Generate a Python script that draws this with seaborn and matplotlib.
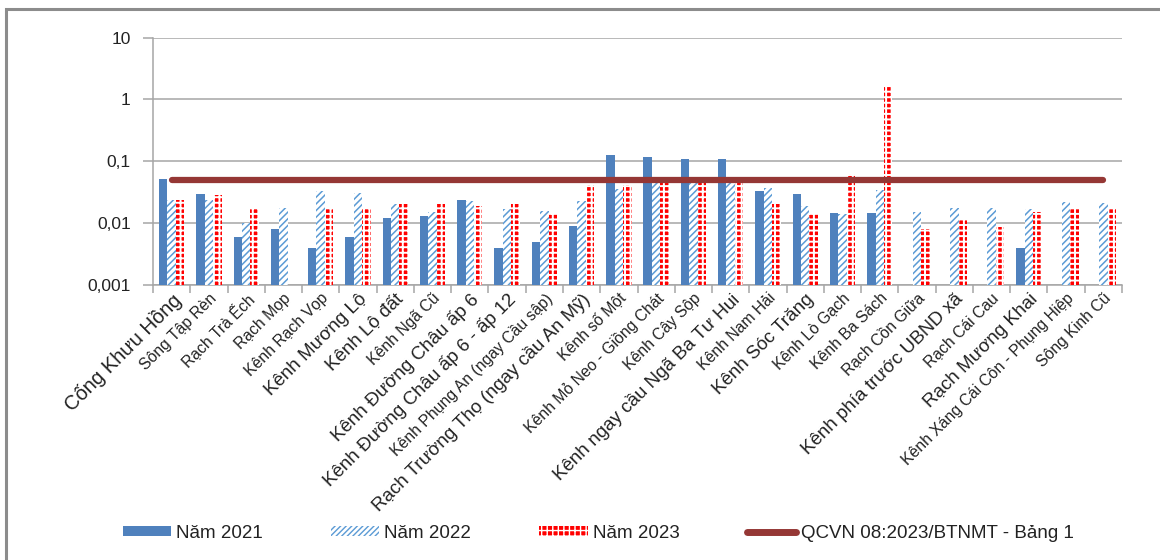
import numpy as np
import pandas as pd
import matplotlib
matplotlib.use("Agg")
import matplotlib.pyplot as plt
import seaborn as sns
from matplotlib.patches import Patch, Rectangle
from matplotlib.lines import Line2D

nan = np.nan

categories = [
    "Cống Khưu Hồng", "Sông Tập Rèn", "Rạch Trà Ếch", "Rạch Mọp", "Kênh Rạch Vọp",
    "Kênh Mương Lộ", "Kênh Lộ đất", "Kênh Ngã Cũ", "Kênh Đường Châu ấp 6",
    "Kênh Đường Châu ấp 6 - ấp 12", "Kênh Phụng An (ngay Cầu sập)",
    "Rạch Trường Thọ (ngay cầu An Mỹ)", "Kênh số Một", "Kênh Mỏ Neo - Giồng Chát",
    "Kênh Cây Sộp", "Kênh ngay cầu Ngã Ba Tư Hui", "Kênh Nam Hải", "Kênh Sóc Trăng",
    "Kênh Lò Gạch", "Kênh Ba Sách", "Rạch Cồn Giữa", "Kênh phía trước UBND xã",
    "Rạch Cái Cau", "Rạch Mương Khai", "Kênh Xáng Cái Côn - Phụng Hiệp", "Sông Kinh Cũ",
]
large_labels = [
    "Cống Khưu Hồng", "Kênh Mương Lộ", "Kênh Lộ đất", "Kênh Đường Châu ấp 6",
    "Kênh Đường Châu ấp 6 - ấp 12", "Rạch Trường Thọ (ngay cầu An Mỹ)",
    "Kênh ngay cầu Ngã Ba Tư Hui", "Kênh Sóc Trăng", "Kênh phía trước UBND xã",
    "Rạch Mương Khai",
]

v2021 = [0.052, 0.030, 0.006, 0.008, 0.004, 0.006, 0.012, 0.013, 0.024, 0.004,
         0.005, 0.009, 0.127, 0.118, 0.109, 0.109, 0.033, 0.030, 0.0145, 0.0145,
         nan, nan, nan, 0.004, nan, nan]
v2022 = [0.0235, 0.0235, 0.010, 0.0177, 0.033, 0.031, 0.020, 0.0152, 0.0226, 0.0168,
         0.0156, 0.023, 0.035, 0.045, 0.045, 0.045, 0.037, 0.019, 0.0141, 0.034,
         0.015, 0.0177, 0.0177, 0.017, 0.022, 0.021]
v2023 = [0.0235, 0.029, 0.0177, nan, 0.0177, 0.0177, 0.020, 0.020, 0.019, 0.020,
         0.0138, 0.041, 0.041, 0.044, 0.045, 0.045, 0.020, 0.0138, 0.063, 1.6,
         0.0079, 0.0117, 0.0087, 0.0154, 0.017, 0.017]

years = ["Năm 2021", "Năm 2022", "Năm 2023"]
qcvn_label = "QCVN 08:2023/BTNMT - Bảng 1"
qcvn_limit = 0.05

yticks = [0.001, 0.01, 0.1, 1, 10]
ytick_labels = ["0,001", "0,01", "0,1", "1", "10"]

# styles
c2021 = "#4F81BD"
c2022 = "#5B9BD5"
c2023 = "#FF0000"
cline = "#953735"
grid_c = "#A6A6A6"
text_c = "#222222"

sns.set_theme(style="white")
plt.rcParams["font.family"] = ["Liberation Sans", "DejaVu Sans"]

df = pd.concat([
    pd.DataFrame({"category": categories, "year": y, "value": v})
    for y, v in zip(years, [v2021, v2022, v2023])
]).dropna()

fig = plt.figure(figsize=(11.6, 5.6), dpi=100)
W, H = 1160, 560
ax = fig.add_axes([153 / W, 1 - 285 / H, (1122 - 153) / W, (285 - 37.5) / H])

sns.barplot(data=df, x="category", y="value", hue="year", order=categories,
            hue_order=years, palette={years[0]: c2021, years[1]: "white", years[2]: c2023},
            width=0.68, errorbar=None, legend=False, ax=ax, zorder=3)

styles = [
    dict(fc=c2021, ec=c2021, hatch=None, hlw=None),
    dict(fc="white", ec=c2022, hatch="/////", hlw=1.1),
    dict(fc=c2023, ec="white", hatch="+++", hlw=1.4),
]
for cont, st in zip(ax.containers, styles):
    for p in cont.patches:
        p.set_facecolor(st["fc"])
        p.set_edgecolor(st["ec"])
        p.set_linewidth(0)
        if st["hatch"]:
            p.set_hatch(st["hatch"])
            if hasattr(p, "set_hatch_linewidth"):
                p.set_hatch_linewidth(st["hlw"])

lc = ax.hlines(qcvn_limit, 0, len(categories) - 1, colors=cline, linewidth=4.5, zorder=4)
lc.set_capstyle("round")

ax.set_yscale("log")
ax.set_ylim(0.001, 10)
ax.set_xlim(-0.5, len(categories) - 0.5)
ax.set_yticks(yticks)
ax.set_yticklabels(ytick_labels)
ax.yaxis.set_minor_locator(matplotlib.ticker.NullLocator())
ax.set_xlabel("")
ax.set_ylabel("")

ax.grid(axis="y", color=grid_c, linewidth=1.1, zorder=0)
ax.set_axisbelow(True)
for s in ["top", "right"]:
    ax.spines[s].set_visible(False)
for s in ["left", "bottom"]:
    ax.spines[s].set_color(grid_c)
    ax.spines[s].set_linewidth(1.1)

ax.tick_params(axis="y", which="major", length=7, color=grid_c, width=1.1,
               labelsize=12.5, labelcolor=text_c, pad=9, left=True)
ax.set_xticks(np.arange(-0.5, len(categories), 1), minor=True)
ax.tick_params(axis="x", which="minor", length=6, color=grid_c, width=1.1, bottom=True)
ax.tick_params(axis="x", which="major", length=0, pad=4, labelcolor=text_c)

ax.set_xticks(np.arange(len(categories)))
ax.set_xticklabels(categories)
for lab in ax.get_xticklabels():
    lab.set_rotation(45)
    lab.set_rotation_mode("anchor")
    lab.set_ha("right")
    lab.set_va("top")
    txt = lab.get_text()
    if txt == categories[0]:
        lab.set_fontsize(14.5)
    elif txt in large_labels:
        lab.set_fontsize(13.5)
    else:
        lab.set_fontsize(11.3)

# legend
h2021 = Patch(facecolor=c2021, edgecolor=c2021, linewidth=0)
h2022 = Patch(facecolor="white", edgecolor=c2022, hatch="//////", linewidth=0)
h2023 = Patch(facecolor=c2023, edgecolor="white", hatch="+++", linewidth=0)
if hasattr(h2022, "set_hatch_linewidth"):
    h2022.set_hatch_linewidth(1.1)
    h2023.set_hatch_linewidth(1.4)
hline = Line2D([], [], color=cline, linewidth=5, solid_capstyle="round")
leg = fig.legend([h2021, h2022, h2023, hline], years + [qcvn_label], loc="center",
                 bbox_to_anchor=(598 / W, 1 - 533 / H), ncol=4, frameon=False,
                 fontsize=13.5, handlelength=2.6, handleheight=0.5,
                 columnspacing=3.6, handletextpad=0.27)
for t in leg.get_texts():
    t.set_color(text_c)

# outer chart frame
fig.add_artist(Rectangle((6 / W, -0.1), 1.2, 1 - 9 / H + 0.1, transform=fig.transFigure,
                         fill=False, edgecolor="#8C8C8C", linewidth=2.2))

fig.savefig("out.png", dpi=100, facecolor="white")
